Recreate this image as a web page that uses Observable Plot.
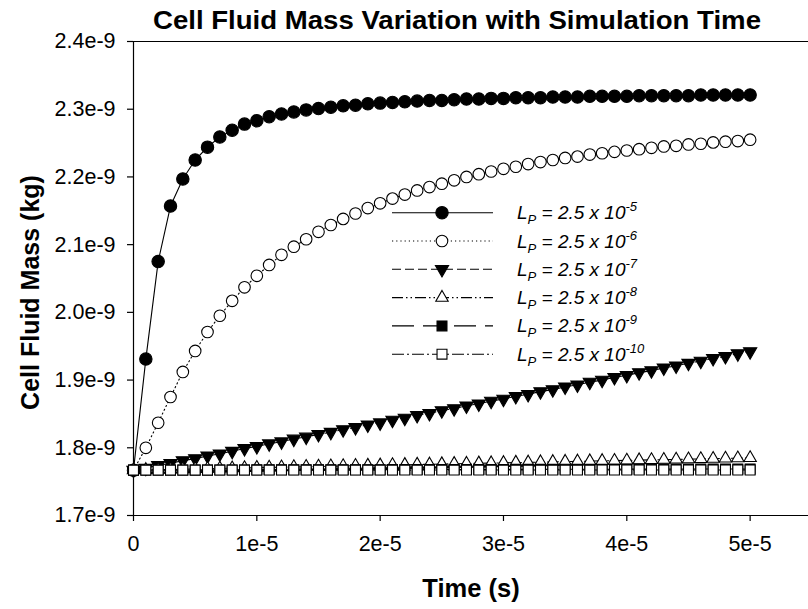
<!DOCTYPE html>
<html>
<head>
<meta charset="utf-8">
<script src="https://cdn.jsdelivr.net/npm/d3@7"></script>
<script src="https://cdn.jsdelivr.net/npm/@observablehq/plot@0.6"></script>
<style>
  html, body { margin: 0; padding: 0; background: #fff; }
  svg { display: block; }
</style>
</head>
<body>
<script>
// Time in microseconds (units of 1e-6 s)
const timeUs = [0,1,2,3,4,5,6,7,8,9,10,11,12,13,14,15,16,17,18,19,20,21,22,23,24,25,26,27,28,29,30,31,32,33,34,35,36,37,38,39,40,41,42,43,44,45,46,47,48,49,50];

// Cell fluid mass in units of 1e-9 kg
const massLp5 = [1.767,1.931,2.075,2.157,2.197,2.225,2.244,2.259,2.269,2.278,
  2.283,2.289,2.293,2.296,2.299,2.301,2.303,2.305,2.306,2.308,
  2.309,2.310,2.311,2.312,2.313,2.313,2.314,2.315,2.315,2.316,
  2.316,2.317,2.317,2.317,2.318,2.318,2.318,2.319,2.319,2.319,
  2.319,2.320,2.320,2.320,2.320,2.320,2.321,2.321,2.321,2.321,2.321];
const massLp6 = [1.767,1.800,1.837,1.875,1.912,1.943,1.971,1.995,2.017,2.037,
  2.054,2.070,2.085,2.097,2.108,2.119,2.129,2.138,2.146,2.154,
  2.161,2.168,2.174,2.180,2.185,2.190,2.195,2.200,2.204,2.208,
  2.212,2.215,2.219,2.222,2.225,2.228,2.230,2.233,2.235,2.237,
  2.239,2.241,2.243,2.245,2.246,2.248,2.249,2.251,2.252,2.253,2.255];
const massLp7 = [1.767,1.770,1.774,1.777,1.781,1.784,1.788,1.791,1.795,1.799,
  1.802,1.806,1.809,1.813,1.816,1.820,1.823,1.827,1.830,1.834,
  1.837,1.841,1.844,1.848,1.851,1.855,1.858,1.862,1.865,1.869,
  1.872,1.876,1.879,1.883,1.886,1.890,1.893,1.897,1.900,1.904,
  1.907,1.911,1.914,1.918,1.921,1.925,1.928,1.932,1.935,1.939,1.942];
const massLp8 = [1.7670,1.7674,1.7677,1.7681,1.7684,1.7688,1.7692,1.7695,1.7699,1.7702,
  1.7706,1.7710,1.7713,1.7717,1.7720,1.7724,1.7728,1.7731,1.7735,1.7738,
  1.7742,1.7746,1.7749,1.7753,1.7756,1.7760,1.7764,1.7767,1.7771,1.7774,
  1.7778,1.7782,1.7785,1.7789,1.7792,1.7796,1.7800,1.7803,1.7807,1.7810,
  1.7814,1.7818,1.7821,1.7825,1.7828,1.7832,1.7836,1.7839,1.7843,1.7846,1.7850];
const massLp9 = [1.76700,1.76704,1.76707,1.76711,1.76714,1.76718,1.76722,1.76725,1.76729,1.76732,
  1.76736,1.76740,1.76743,1.76747,1.76750,1.76754,1.76758,1.76761,1.76765,1.76768,
  1.76772,1.76776,1.76779,1.76783,1.76786,1.76790,1.76794,1.76797,1.76801,1.76804,
  1.76808,1.76812,1.76815,1.76819,1.76822,1.76826,1.76830,1.76833,1.76837,1.76840,
  1.76844,1.76848,1.76851,1.76855,1.76858,1.76862,1.76866,1.76869,1.76873,1.76876,1.76880];
const massLp10 = [1.76700,1.76700,1.76701,1.76701,1.76701,1.76702,1.76702,1.76703,1.76703,1.76703,
  1.76704,1.76704,1.76704,1.76705,1.76705,1.76705,1.76706,1.76706,1.76706,1.76707,
  1.76707,1.76708,1.76708,1.76708,1.76709,1.76709,1.76709,1.76710,1.76710,1.76710,
  1.76711,1.76711,1.76712,1.76712,1.76712,1.76713,1.76713,1.76713,1.76714,1.76714,
  1.76714,1.76715,1.76715,1.76715,1.76716,1.76716,1.76717,1.76717,1.76717,1.76718,1.76718];

const seriesExponents = ["-5","-6","-7","-8","-9","-10"];
const seriesValues = [massLp5, massLp6, massLp7, massLp8, massLp9, massLp10];

const xTickValues = [0,10,20,30,40,50];
const xTickLabels = ["0","1e-5","2e-5","3e-5","4e-5","5e-5"];
const yTickValues = [1.7,1.8,1.9,2.0,2.1,2.2,2.3,2.4];
const yTickLabels = ["1.7e-9","1.8e-9","1.9e-9","2.0e-9","2.1e-9","2.2e-9","2.3e-9","2.4e-9"];

const titleText = "Cell Fluid Mass Variation with Simulation Time";
const xLabel = "Time (s)";
const yLabel = "Cell Fluid Mass (kg)";

// styles per series
const styles = [
  {dash: null,              symbol: "circle",   fill: "black", r: 6.2, rotate: 0},
  {dash: "1.2,3",           symbol: "circle",   fill: "white", r: 5.8, rotate: 0},
  {dash: "9,4",             symbol: "triangle", fill: "black", r: 4.9, rotate: 180},
  {dash: "11,3,1.5,3,1.5,3",symbol: "triangle", fill: "white", r: 4.6, rotate: 0},
  {dash: "22,9",            symbol: "square",   fill: "black", r: 5.6, rotate: 0},
  {dash: "12,3,2,3",        symbol: "square",   fill: "white", r: 5.6, rotate: 0}
];

const tables = seriesValues.map((vals, s) => timeUs.map((t, i) => ({t, v: vals[i], s})));

const marks = [];
tables.forEach((rows, s) => {
  const st = styles[s];
  marks.push(Plot.line(rows, {x: "t", y: "v", stroke: "black", strokeWidth: 1.1, strokeDasharray: st.dash || undefined}));
  marks.push(Plot.dot(rows, {x: "t", y: "v", symbol: st.symbol, r: st.r, fill: st.fill, stroke: "black", strokeWidth: 1.1, rotate: st.rotate}));
});

const chart = Plot.plot({
  width: 808,
  height: 609,
  marginLeft: 133,
  marginRight: 0,
  marginTop: 41,
  marginBottom: 94,
  style: {fontFamily: "'Liberation Sans', Arial, sans-serif", fontSize: "21px", background: "white", color: "black"},
  x: {domain: [0, 55], range: [133, 811.3]},
  y: {domain: [1.7, 2.4]},
  marks: [
    Plot.ruleY([1.7, 2.4], {stroke: "black", strokeWidth: 1.2}),
    Plot.ruleX([0], {stroke: "black", strokeWidth: 1.2}),
    Plot.axisX({ticks: xTickValues, tickFormat: (d, i) => xTickLabels[i], tickSize: 6, tickPadding: 14, fontSize: 21.5, label: null, strokeWidth: 1.2}),
    Plot.axisY({ticks: yTickValues, tickFormat: (d, i) => yTickLabels[i], tickSize: 6, tickPadding: 12, fontSize: 21.5, label: null, strokeWidth: 1.2}),
    ...marks,
    Plot.text([titleText], {text: d => d, frameAnchor: "top", textAnchor: "middle", dx: -14, dy: -31, fontSize: 26.5, fontWeight: "bold"}),
    Plot.text([xLabel], {text: d => d, frameAnchor: "bottom", textAnchor: "middle", dy: 81, fontSize: 25.5, fontWeight: "bold"}),
    Plot.text([yLabel], {text: d => d, frameAnchor: "left", textAnchor: "middle", rotate: -90, dx: -103, dy: 14, fontSize: 25, fontWeight: "bold"})
  ]
});

document.body.append(chart);

// Legend
const svg = d3.select(chart);
const leg = svg.append("g").attr("font-family", "'Liberation Sans', Arial, sans-serif").attr("font-style", "italic").attr("text-anchor", "start");
seriesExponents.forEach((exp, i) => {
  const st = styles[i];
  const y = 212.7 + i * 28.3;
  leg.append("line").attr("x1", 392).attr("x2", 493).attr("y1", y).attr("y2", y)
    .attr("stroke", "black").attr("stroke-width", 1.1)
    .attr("stroke-dasharray", st.dash || null);
  const symType = st.symbol === "circle" ? d3.symbolCircle : st.symbol === "square" ? d3.symbolSquare : d3.symbolTriangle;
  leg.append("path").attr("d", d3.symbol(symType, Math.PI * st.r * st.r)())
    .attr("transform", `translate(442,${y}) rotate(${st.rotate})`)
    .attr("fill", st.fill).attr("stroke", "black").attr("stroke-width", 1.1);
  const t = leg.append("text").attr("x", 517).attr("y", y + 6.5).attr("font-size", 19).attr("fill", "black").attr("text-anchor", "start");
  t.append("tspan").text("L");
  t.append("tspan").attr("font-size", 13).attr("dy", 5).text("P");
  t.append("tspan").attr("dy", -5).text(" = 2.5 x 10");
  t.append("tspan").attr("font-size", 13).attr("dy", -8).text(exp);
});

// Stretch title to the reference's width
svg.selectAll("text").filter(function() { return this.textContent === titleText; })
  .attr("textLength", 608).attr("lengthAdjust", "spacingAndGlyphs");
</script>
</body>
</html>
